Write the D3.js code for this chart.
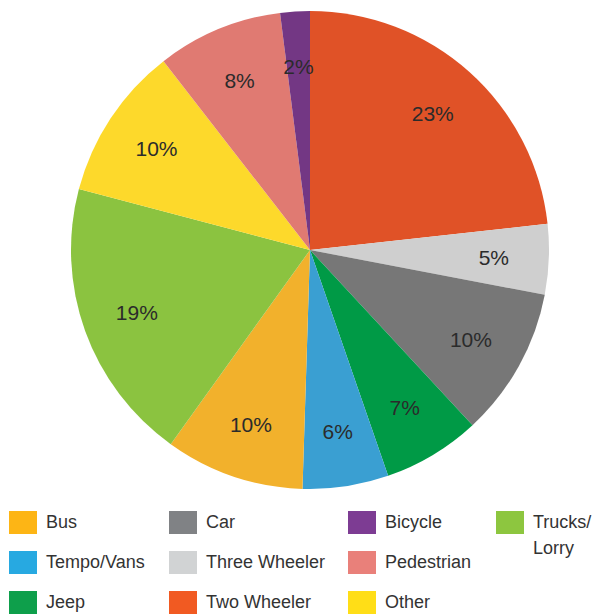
<!DOCTYPE html>
<html>
<head>
<meta charset="utf-8">
<script src="https://cdn.jsdelivr.net/npm/d3@7"></script>
<style>
  html, body { margin: 0; padding: 0; background: #fff; }
  svg { display: block; }
  text { font-family: "Liberation Sans", Arial, Helvetica, sans-serif; }
</style>
</head>
<body>
<svg id="chart" width="595" height="614"></svg>
<script>
// Data (clockwise from 12 o'clock)
const categories = ["Two Wheeler", "Three Wheeler", "Car", "Jeep", "Tempo/Vans", "Bus", "Trucks/Lorry", "Other", "Pedestrian", "Bicycle"];
const values = [23.25, 4.75, 10.1, 6.6, 5.8, 9.4, 19.2, 10.4, 8.5, 2.0];
const valueLabels = ["23%", "5%", "10%", "7%", "6%", "10%", "19%", "10%", "8%", "2%"];
const pieColors = ["#E05227", "#CFCFCF", "#777777", "#009A46", "#3A9FD2", "#F2B12C", "#8BC340", "#FDD92B", "#E07A72", "#733784"];

// Legend (column-major, 3 rows)
const legendItems = ["Bus", "Tempo/Vans", "Jeep", "Car", "Three Wheeler", "Two Wheeler", "Bicycle", "Pedestrian", "Other", "Trucks/Lorry"];
const legendText = [["Bus"], ["Tempo/Vans"], ["Jeep"], ["Car"], ["Three Wheeler"], ["Two Wheeler"], ["Bicycle"], ["Pedestrian"], ["Other"], ["Trucks/", "Lorry"]];
const legendColors = ["#FDB515", "#27A9E1", "#0E9F4B", "#808285", "#D1D3D4", "#F15A22", "#7D3C93", "#E9807A", "#FFDE17", "#8DC63F"];

const svg = d3.select("#chart");
const cx = 310, cy = 250, R = 239;

const pie = d3.pie().sort(null).value(d => d.v);
const data = pie(categories.map((c, i) => ({ c, v: values[i], label: valueLabels[i], color: pieColors[i] })));

const arc = d3.arc().innerRadius(0).outerRadius(R);
const labelArc = d3.arc().innerRadius(184).outerRadius(184);

const g = svg.append("g").attr("transform", `translate(${cx},${cy})`);
g.selectAll("path.slice").data(data).join("path")
  .attr("class", "slice")
  .attr("d", arc)
  .attr("fill", d => d.data.color);

g.selectAll("text.lbl").data(data).join("text")
  .attr("class", "lbl")
  .attr("transform", d => `translate(${labelArc.centroid(d)})`)
  .attr("text-anchor", "middle")
  .attr("dy", "0.36em")
  .attr("font-size", 21)
  .attr("fill", "#2b2b2b")
  .text(d => d.data.label);

// Legend
const colXs = [9, 169, 348, 496];
const rowY = d3.scalePoint().domain([0, 1, 2]).range([511, 591]);
const lg = svg.append("g");
const items = lg.selectAll("g.item").data(legendItems.map((name, i) => ({ name, i, col: Math.floor(i / 3), row: i % 3 })))
  .join("g").attr("class", "item")
  .attr("transform", d => `translate(${colXs[d.col]},${rowY(d.row)})`);
items.append("rect")
  .attr("width", 28).attr("height", 23)
  .attr("fill", d => legendColors[d.i]);
items.append("text")
  .attr("x", 37).attr("y", 17)
  .attr("font-size", 18)
  .attr("fill", "#333")
  .each(function(d) {
    const t = d3.select(this);
    legendText[d.i].forEach((line, k) => {
      t.append("tspan").attr("x", 37).attr("dy", k === 0 ? 0 : 26).text(line);
    });
  });
</script>
</body>
</html>
